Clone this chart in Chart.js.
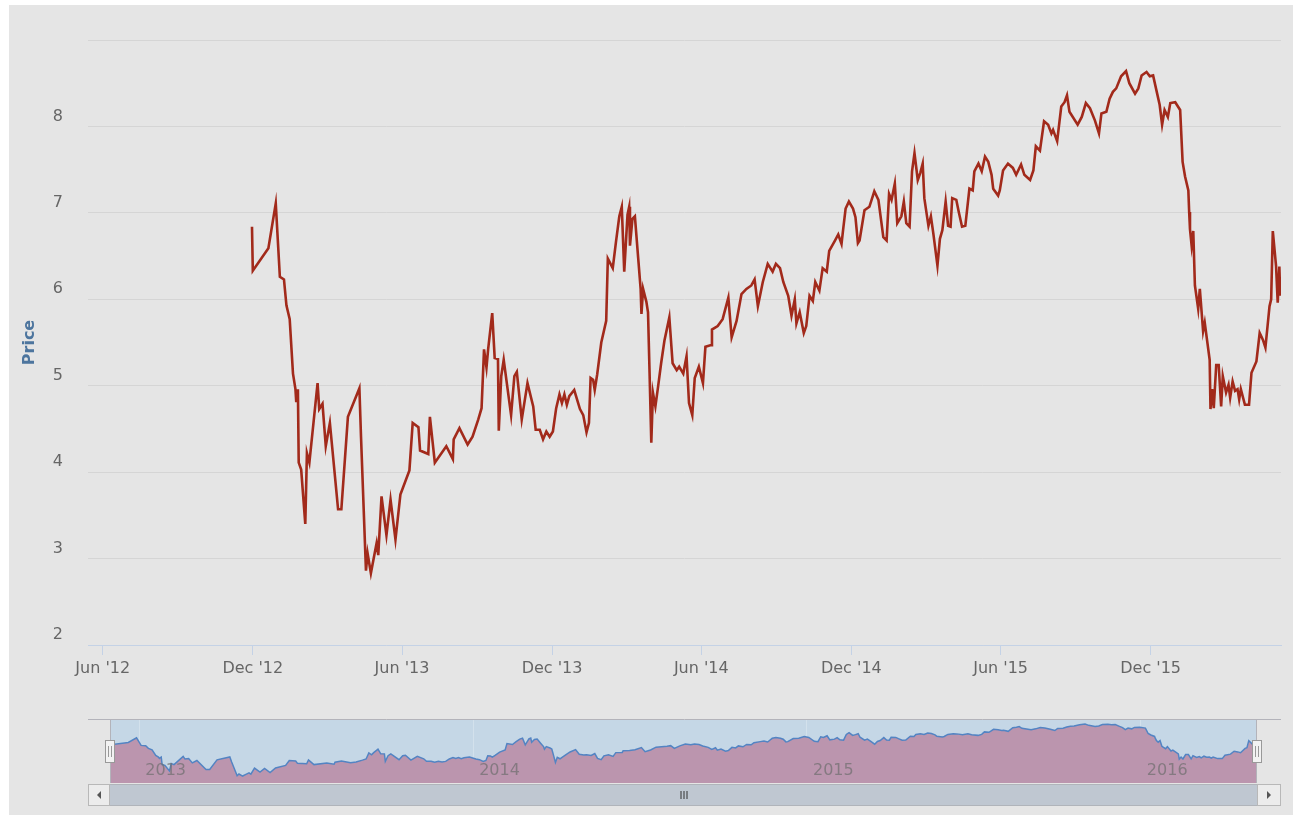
<!DOCTYPE html>
<html>
<head>
<meta charset="utf-8">
<script src="https://cdn.jsdelivr.net/npm/chart.js@4.4.0/dist/chart.umd.min.js"></script>
<style>
  html, body { margin: 0; padding: 0; background: #ffffff; }
  #wrap { position: relative; width: 1295px; height: 820px; }
  #bg { position: absolute; left: 9px; top: 5px; width: 1284px; height: 810px; background: #e5e5e5; }
  #main { position: absolute; left: 0; top: 0; }
  #nav { position: absolute; left: 0; top: 700px; }
</style>
</head>
<body>
<div id="wrap">
  <div id="bg"></div>
  <canvas id="main" width="1295" height="700"></canvas>
  <canvas id="nav" width="1295" height="120"></canvas>
</div>
<script>
// price series
const dates = [
  '2012-11-30','2012-12-01','2012-12-20','2012-12-29','2013-01-03','2013-01-08','2013-01-11','2013-01-15','2013-01-19','2013-01-22',
  '2013-01-23','2013-01-25','2013-01-26','2013-01-29','2013-02-03','2013-02-05','2013-02-08','2013-02-18','2013-02-20','2013-02-24',
  '2013-02-28','2013-03-05','2013-03-15','2013-03-19','2013-03-27','2013-04-10','2013-04-12','2013-04-18','2013-04-20','2013-04-24',
  '2013-04-27','2013-05-01','2013-05-03','2013-05-07','2013-05-13','2013-05-18','2013-05-24','2013-05-30','2013-06-10','2013-06-14',
  '2013-06-21','2013-06-23','2013-07-03','2013-07-05','2013-07-11','2013-07-25','2013-08-02','2013-08-03','2013-08-10','2013-08-20',
  '2013-08-26','2013-09-02','2013-09-06','2013-09-09','2013-09-12','2013-09-14','2013-09-19','2013-09-22','2013-09-26','2013-09-27',
  '2013-09-30','2013-10-03','2013-10-12','2013-10-16','2013-10-19','2013-10-25','2013-11-01','2013-11-08','2013-11-11','2013-11-16',
  '2013-11-20','2013-11-24','2013-11-28','2013-12-02','2013-12-06','2013-12-10','2013-12-13','2013-12-16','2013-12-19','2013-12-22',
  '2013-12-28','2014-01-04','2014-01-08','2014-01-12','2014-01-15','2014-01-17','2014-01-20','2014-01-22','2014-01-25','2014-01-30',
  '2014-02-05','2014-02-07','2014-02-13','2014-02-17','2014-02-21','2014-02-24','2014-02-27','2014-03-03','2014-03-05','2014-03-06',
  '2014-03-09','2014-03-12','2014-03-16','2014-03-19','2014-03-20','2014-03-22','2014-03-26','2014-03-28','2014-03-30','2014-04-01',
  '2014-04-03','2014-04-06','2014-04-09','2014-04-13','2014-04-17','2014-04-23','2014-04-27','2014-05-02','2014-05-05','2014-05-10',
  '2014-05-14','2014-05-17','2014-05-21','2014-05-24','2014-05-29','2014-06-03','2014-06-06','2014-06-13','2014-06-14','2014-06-21',
  '2014-06-27','2014-07-04','2014-07-08','2014-07-14','2014-07-20','2014-07-26','2014-08-01','2014-08-05','2014-08-09','2014-08-15',
  '2014-08-21','2014-08-27','2014-08-31','2014-09-05','2014-09-09','2014-09-15','2014-09-19','2014-09-23','2014-09-25','2014-09-29',
  '2014-10-04','2014-10-07','2014-10-11','2014-10-15','2014-10-18','2014-10-23','2014-10-27','2014-11-01','2014-11-04','2014-11-11',
  '2014-11-15','2014-11-19','2014-11-21','2014-11-24','2014-11-28','2014-12-03','2014-12-06','2014-12-09','2014-12-11','2014-12-17',
  '2014-12-23','2014-12-29','2015-01-03','2015-01-09','2015-01-13','2015-01-16','2015-01-19','2015-01-23','2015-01-26','2015-01-31',
  '2015-02-03','2015-02-06','2015-02-10','2015-02-13','2015-02-16','2015-02-20','2015-02-23','2015-02-26','2015-02-28','2015-03-05',
  '2015-03-08','2015-03-11','2015-03-16','2015-03-19','2015-03-22','2015-03-26','2015-03-29','2015-04-01','2015-04-03','2015-04-08',
  '2015-04-11','2015-04-15','2015-04-19','2015-04-24','2015-04-28','2015-04-30','2015-05-05','2015-05-09','2015-05-13','2015-05-17',
  '2015-05-21','2015-05-23','2015-05-29','2015-05-31','2015-06-04','2015-06-10','2015-06-16','2015-06-20','2015-06-26','2015-06-30',
  '2015-07-07','2015-07-11','2015-07-14','2015-07-19','2015-07-24','2015-07-29','2015-08-02','2015-08-04','2015-08-09','2015-08-14',
  '2015-08-18','2015-08-21','2015-08-24','2015-09-03','2015-09-08','2015-09-13','2015-09-18','2015-09-24','2015-09-29','2015-10-02',
  '2015-10-08','2015-10-12','2015-10-16','2015-10-20','2015-10-26','2015-11-01','2015-11-05','2015-11-12','2015-11-16','2015-11-20',
  '2015-11-26','2015-11-30','2015-12-04','2015-12-08','2015-12-12','2015-12-15','2015-12-18','2015-12-22','2015-12-25','2015-12-31',
  '2016-01-06','2016-01-09','2016-01-12','2016-01-16','2016-01-17','2016-01-18','2016-01-20','2016-01-22','2016-01-24','2016-01-28',
  '2016-01-30','2016-02-03','2016-02-05','2016-02-11','2016-02-12','2016-02-14','2016-02-16','2016-02-19','2016-02-22','2016-02-25',
  '2016-02-27','2016-03-02','2016-03-05','2016-03-07','2016-03-10','2016-03-13','2016-03-16','2016-03-18','2016-03-20','2016-03-25',
  '2016-03-30','2016-04-02','2016-04-08','2016-04-12','2016-04-16','2016-04-19','2016-04-24','2016-04-26','2016-04-28','2016-05-02',
  '2016-05-04','2016-05-06','2016-05-07'
];
const prices = [
  6.84,6.33,6.59,7.11,6.26,6.23,5.93,5.77,5.14,4.96,
  4.81,4.96,4.11,4.03,3.40,4.22,4.11,5.03,4.73,4.79,
  4.30,4.57,3.57,3.57,4.64,4.97,4.40,2.86,3.06,2.83,
  2.98,3.18,3.04,3.72,3.27,3.68,3.22,3.74,4.02,4.57,
  4.52,4.25,4.21,4.64,4.11,4.30,4.15,4.38,4.51,4.32,
  4.41,4.61,4.74,5.42,5.21,5.42,5.84,5.32,5.31,4.48,
  5.11,5.30,4.66,5.11,5.16,4.61,5.03,4.76,4.49,4.49,
  4.38,4.47,4.41,4.47,4.74,4.90,4.80,4.90,4.78,4.88,
  4.95,4.73,4.66,4.46,4.57,5.09,5.07,4.95,5.13,5.50,
  5.75,6.47,6.36,6.67,6.96,7.07,6.32,6.98,7.07,6.62,
  6.93,6.96,6.48,6.12,5.83,6.12,5.97,5.85,5.11,4.34,
  4.92,4.76,4.97,5.26,5.52,5.79,5.26,5.18,5.22,5.14,
  5.34,4.80,4.66,5.09,5.22,5.03,5.45,5.47,5.65,5.69,
  5.77,6.02,5.56,5.75,6.06,6.12,6.16,6.23,5.92,6.20,
  6.41,6.32,6.41,6.36,6.20,6.04,5.81,6.00,5.72,5.85,
  5.61,5.69,6.04,5.98,6.20,6.10,6.36,6.32,6.56,6.68,
  6.75,6.64,6.81,7.05,7.13,7.05,6.95,6.65,6.68,7.03,
  7.07,7.25,7.15,6.72,6.68,7.22,7.15,7.34,6.88,6.96,
  7.13,6.88,6.84,7.48,7.69,7.38,7.46,7.57,7.17,6.85,
  6.96,6.76,6.39,6.70,6.80,7.13,6.85,6.84,7.17,7.15,
  7.01,6.84,6.85,7.28,7.26,7.48,7.57,7.48,7.65,7.59,
  7.44,7.28,7.20,7.26,7.49,7.57,7.52,7.44,7.56,7.44,
  7.38,7.49,7.77,7.72,8.06,8.02,7.92,7.96,7.83,8.23,
  8.28,8.36,8.17,8.02,8.11,8.27,8.21,8.07,7.92,8.15,
  8.17,8.32,8.40,8.44,8.58,8.64,8.50,8.38,8.44,8.59,
  8.63,8.58,8.59,8.42,8.25,8.02,8.19,8.11,8.27,8.28,
  8.19,7.59,7.42,7.26,7.01,6.81,6.62,6.79,6.16,5.89,
  6.12,5.63,5.73,5.30,4.73,4.96,4.74,5.24,5.24,4.76,
  5.11,4.92,5.01,4.86,5.05,4.94,4.96,4.84,4.96,4.78,
  4.78,5.15,5.28,5.61,5.53,5.44,5.92,6.00,6.79,6.38,
  5.96,6.38,6.04
];

// axis ticks
const xTickDates = ['2012-06-01','2012-12-01','2013-06-01','2013-12-01','2014-06-01','2014-12-01','2015-06-01','2015-12-01'];
const xTickLabels = ["Jun '12","Dec '12","Jun '13","Dec '13","Jun '14","Dec '14","Jun '15","Dec '15"];
const yTicks = [2, 3, 4, 5, 6, 7, 8, 9];
const navTickDates = ['2013-01-01','2014-01-01','2015-01-01','2016-01-01'];
const navTickLabels = ['2013','2014','2015','2016'];

const xMin = Date.parse('2012-05-14');
const xMax = Date.parse('2016-05-08');

const points = dates.map((d, i) => ({ x: Date.parse(d), y: prices[i] }));
const xTickValues = xTickDates.map(d => Date.parse(d));
const navTickValues = navTickDates.map(d => Date.parse(d));

const labelFont = { family: 'DejaVu Sans', size: 16 };

new Chart(document.getElementById('main'), {
  type: 'line',
  data: {
    datasets: [{
      label: 'Price',
      data: points,
      borderColor: '#a22a1b',
      borderWidth: 2.6,
      pointRadius: 0,
      tension: 0,
      fill: false
    }]
  },
  options: {
    responsive: false,
    animation: false,
    devicePixelRatio: 1,
    layout: { padding: { top: 40, right: 14, left: 0, bottom: 0 } },
    plugins: { legend: { display: false }, tooltip: { enabled: false } },
    scales: {
      x: {
        type: 'linear',
        min: xMin,
        max: xMax,
        afterBuildTicks: s => { s.ticks = xTickValues.map(v => ({ value: v })); },
        afterFit: s => { s.height = 55; },
        grid: { drawOnChartArea: false, drawTicks: true, tickLength: 10, color: '#c4d2e6' },
        border: { color: '#c4d2e6', width: 1 },
        ticks: {
          autoSkip: false,
          maxRotation: 0,
          padding: 4,
          color: '#666666',
          font: labelFont,
          callback: v => { const i = xTickValues.indexOf(v); return i >= 0 ? xTickLabels[i] : ''; }
        }
      },
      y: {
        min: 2,
        max: 9,
        afterBuildTicks: s => { s.ticks = yTicks.map(v => ({ value: v })); },
        afterFit: s => { s.width = 88; },
        grid: { color: '#d5d5d5', drawTicks: false },
        border: { display: false },
        ticks: {
          padding: 25,
          labelOffset: -10,
          color: '#666666',
          font: labelFont,
          callback: v => (v === 9 ? '' : String(v))
        },
        title: {
          display: true,
          text: 'Price',
          color: '#4d759e',
          font: { family: 'DejaVu Sans', size: 16, weight: 'bold' },
          padding: { top: 20, bottom: 0 }
        }
      }
    }
  }
});

// navigator strip with its scrollbar
const navDecor = {
  id: 'navDecor',
  beforeDraw(chart) {
    const { ctx, chartArea: a } = chart;
    ctx.save();
    ctx.fillStyle = '#c5d7e6';
    ctx.fillRect(a.left, a.top, a.right - a.left, a.bottom - a.top);
    ctx.restore();
  },
  afterDatasetsDraw(chart) {
    // year labels sit inside the navigator, over the area fill
    const { ctx, chartArea: a, scales: { x } } = chart;
    ctx.save();
    ctx.font = '16px "DejaVu Sans"';
    ctx.fillStyle = 'rgba(110,110,110,0.7)';
    ctx.textAlign = 'left';
    ctx.textBaseline = 'middle';
    navTickValues.forEach((v, i) => {
      ctx.fillText(navTickLabels[i], x.getPixelForValue(v) + 6, a.bottom - 12);
    });
    ctx.restore();
  },
  afterDraw(chart) {
    const { ctx, chartArea: a } = chart;
    ctx.save();
    // outline
    ctx.strokeStyle = '#b3b3ba';
    ctx.lineWidth = 1;
    ctx.beginPath();
    ctx.moveTo(88, a.top - 0.5);
    ctx.lineTo(1281, a.top - 0.5);
    ctx.moveTo(a.left + 0.5, a.top);
    ctx.lineTo(a.left + 0.5, a.bottom);
    ctx.moveTo(a.right - 0.5, a.top);
    ctx.lineTo(a.right - 0.5, a.bottom);
    ctx.stroke();

    // scrollbar track
    const sy = a.bottom + 1, sh = 22;
    ctx.fillStyle = '#bfc7d1';
    ctx.fillRect(88, sy, 1193, sh);
    ctx.strokeStyle = '#b0b4ba';
    ctx.strokeRect(88.5, sy + 0.5, 1192, sh - 1);
    // buttons
    [[88, a.left], [a.right, 1281]].forEach(([x0, x1], k) => {
      ctx.fillStyle = '#ececec';
      ctx.fillRect(x0, sy, x1 - x0, sh);
      ctx.strokeStyle = '#b8b8b8';
      ctx.strokeRect(x0 + 0.5, sy + 0.5, x1 - x0 - 1, sh - 1);
      const cx = (x0 + x1) / 2, cy = sy + sh / 2;
      ctx.fillStyle = '#555555';
      ctx.beginPath();
      if (k === 0) { ctx.moveTo(cx - 2, cy); ctx.lineTo(cx + 2, cy - 4); ctx.lineTo(cx + 2, cy + 4); }
      else { ctx.moveTo(cx + 2, cy); ctx.lineTo(cx - 2, cy - 4); ctx.lineTo(cx - 2, cy + 4); }
      ctx.closePath();
      ctx.fill();
    });
    // grip
    const gx = (a.left + a.right) / 2;
    ctx.strokeStyle = '#333333';
    ctx.beginPath();
    [-3, 0, 3].forEach(d => { ctx.moveTo(gx + d + 0.5, sy + 7); ctx.lineTo(gx + d + 0.5, sy + 15); });
    ctx.stroke();

    // handles
    [a.left, a.right].forEach(hx => {
      ctx.fillStyle = '#f2f2f2';
      ctx.fillRect(hx - 4.5, 40, 9, 22);
      ctx.strokeStyle = '#999999';
      ctx.strokeRect(hx - 4.5, 40.5, 9, 22);
      ctx.beginPath();
      ctx.moveTo(hx - 1.5, 46); ctx.lineTo(hx - 1.5, 57);
      ctx.moveTo(hx + 1.5, 46); ctx.lineTo(hx + 1.5, 57);
      ctx.stroke();
    });
    ctx.restore();
  }
};

new Chart(document.getElementById('nav'), {
  type: 'line',
  data: {
    datasets: [{
      data: points,
      borderColor: '#5384c3',
      borderWidth: 1.5,
      backgroundColor: '#bb95ae',
      fill: 'start',
      pointRadius: 0,
      tension: 0
    }]
  },
  options: {
    responsive: false,
    animation: false,
    devicePixelRatio: 1,
    layout: { padding: { top: 20, right: 38, left: 110, bottom: 0 } },
    plugins: { legend: { display: false }, tooltip: { enabled: false } },
    scales: {
      x: {
        type: 'linear',
        min: Date.parse(dates[0]),
        max: Date.parse(dates[dates.length - 1]),
        afterBuildTicks: s => { s.ticks = navTickValues.map(v => ({ value: v })); },
        afterFit: s => { s.height = 37; },
        grid: { drawOnChartArea: true, drawTicks: false, color: 'rgba(255,255,255,0.25)' },
        border: { display: false },
        ticks: { display: false, autoSkip: false }
      },
      y: { display: false, min: 2.05, max: 9.1 }
    }
  },
  plugins: [navDecor]
});
</script>
</body>
</html>
